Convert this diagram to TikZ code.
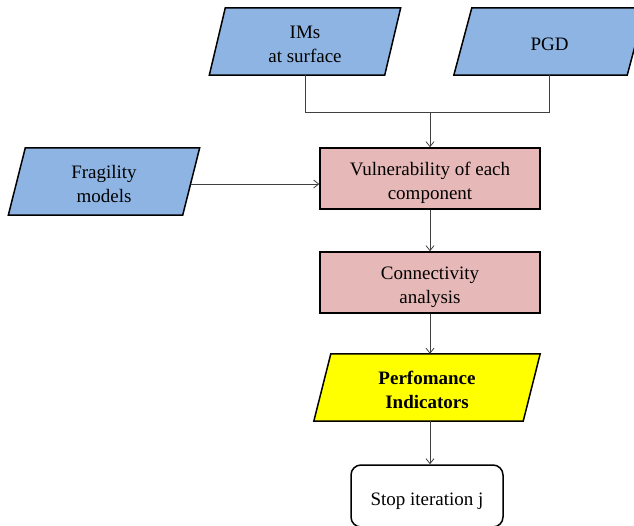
\documentclass[tikz,border=0pt]{standalone}
\usepackage{fontspec}
\setmainfont{Liberation Serif}
\usetikzlibrary{arrows.meta,backgrounds,calc}
\definecolor{inblue}{HTML}{8EB4E3}
\definecolor{procpink}{HTML}{E6B9B8}
\definecolor{outyellow}{HTML}{FFFF00}
\definecolor{wire}{HTML}{404040}

% parallelogram drawn around a (borderless) rectangular node: name, half slant, fill
\newcommand\drawpara[3]{%
  \filldraw[parashape,fill=#3]
    ([xshift=-#2pt]#1.south west) -- ([xshift=-#2pt]#1.south east) --
    ([xshift=#2pt]#1.north east) -- ([xshift=#2pt]#1.north west) -- cycle;}
% centred text block, set slightly below the middle of its box
\newsavebox\textblk
\newcommand\boxtext[1]{%
  \sbox\textblk{\begin{tabular}{@{}c@{}}#1\end{tabular}}%
  \raisebox{-4.5pt}[\ht\textblk][\dp\textblk]{\usebox\textblk}}

\begin{document}
\begin{tikzpicture}[x=1pt,y=-1pt,
  font=\fontsize{19}{23.5}\selectfont,
  every node/.style={align=center, inner sep=0pt},
  iobox/.style={minimum height=67pt},
  procbox/.style={draw=black, line width=1.5pt, fill=procpink,
    minimum width=220pt, minimum height=61pt},
  parashape/.style={draw=black, line width=1.5pt, line join=miter},
  endbox/.style={draw=black, line width=1.5pt, rounded corners=10pt,
    fill=white, minimum width=152pt, minimum height=62pt},
  wireline/.style={draw=wire, line width=0.8pt},
  flow/.style={wireline, -{Straight Barb[length=5pt,width=8pt]}}
]
\useasboundingbox (0,0) rectangle (634,526);

% inputs
\node[iobox, minimum width=175pt] (ims)  at (305,41.5)  {\boxtext{IMs\\at surface}};
\node[iobox, minimum width=173pt] (pgd)  at (549.5,41.5) {\boxtext{PGD}};
\node[iobox, minimum width=174pt] (frag) at (104,181.5) {\boxtext{Fragility\\models}};

% processing steps
\node[procbox] (vuln) at (430,178.5) {\boxtext{Vulnerability of each\\component}};
\node[procbox] (conn) at (430,282.5) {\boxtext{Connectivity\\analysis}};

% output and end
\node[iobox, minimum width=209pt,
      font=\fontsize{19}{23.5}\selectfont\bfseries] (perf) at (427,387.5)
      {\boxtext{Perfomance\\Indicators}};
\node[endbox] (stop) at (427,496) {\boxtext{Stop iteration j}};

\begin{pgfonlayer}{background}
  \drawpara{ims}{8}{inblue}
  \drawpara{pgd}{9}{inblue}
  \drawpara{frag}{8.5}{inblue}
  \drawpara{perf}{8.5}{outyellow}
\end{pgfonlayer}

% connectors
\coordinate (join) at (430,112);
\draw[wireline] (ims.south) |- (join);
\draw[wireline] (pgd.south) |- (join);
\draw[flow] (join) -- (vuln.north);
\draw[flow] ([yshift=-2.5pt]frag.east) -- ([yshift=-2.5pt]frag.east -| vuln.west);
\draw[flow] (vuln.south) -- (conn.north);
\draw[flow] (conn.south) -- (conn.south |- perf.north);
\draw[flow] (conn.south |- perf.south) -- (conn.south |- stop.north);
\end{tikzpicture}
\end{document}
